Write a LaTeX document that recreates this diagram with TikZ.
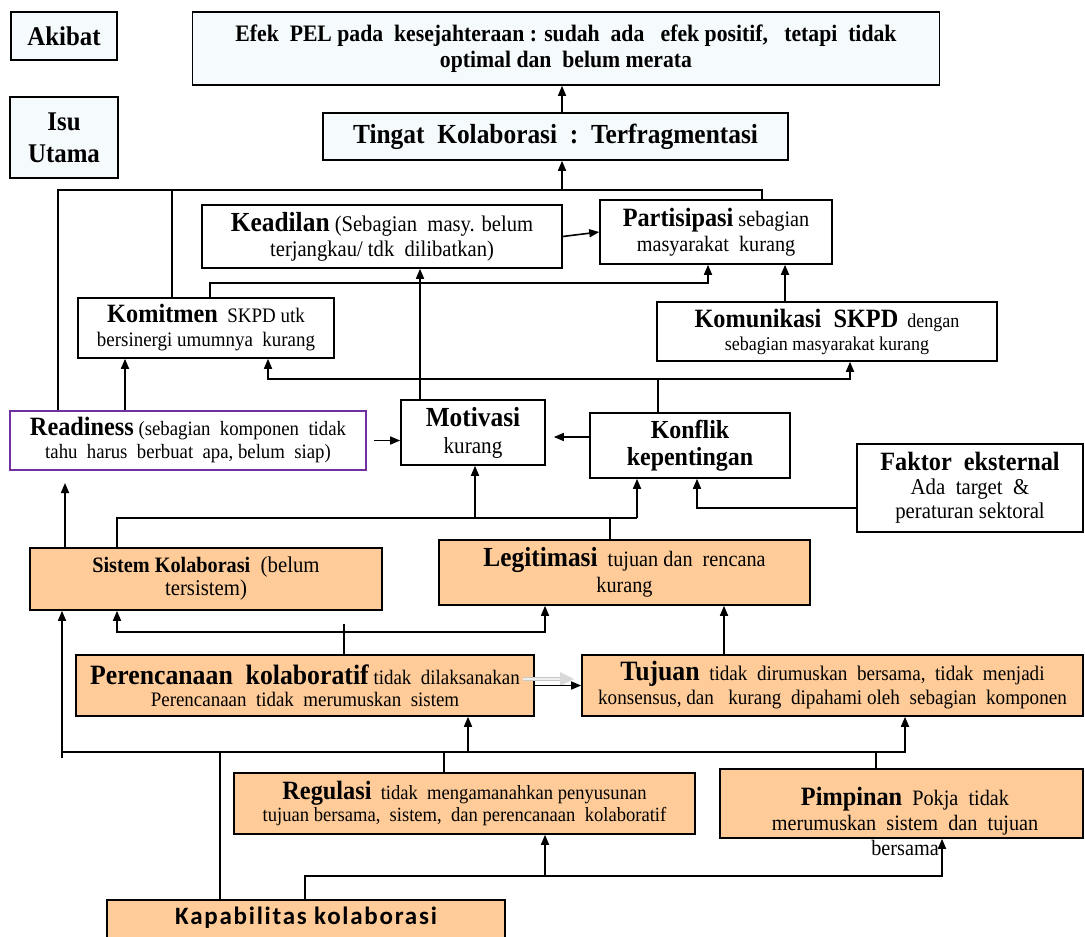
\documentclass[tikz,border=0pt]{standalone}
\usepackage{fontspec}
\setmainfont{Liberation Serif}[FakeStretch=0.92]
\newfontfamily\capfont{Carlito}[LetterSpace=7]
\usetikzlibrary{arrows.meta,calc}
\definecolor{lblue}{RGB}{245,250,253}
\definecolor{peach}{RGB}{255,204,153}
\definecolor{purp}{RGB}{112,48,160}
\newcommand\fs[2]{\fontsize{#1}{#2}\selectfont}
\newcommand\bhd[1]{{\fontsize{13.2}{13}\selectfont\bfseries #1}}
\tikzset{
  bx/.style={draw, line width=0.8pt, align=center, inner sep=1pt, font=\fs{10}{12}},
  bb/.style={bx, fill=lblue},
  ob/.style={bx, fill=peach},
  sz/.style 2 args={minimum width=#1*0.5pt, minimum height=#2*0.5pt},
  arr/.style={-{Triangle[length=5pt,width=4pt]}},
  darr/.style={{Triangle[length=5pt,width=4pt]}-{Triangle[length=5pt,width=4pt]}},
  ln/.style={line width=0.8pt}
}
\begin{document}
\begin{tikzpicture}[x={(0.5pt,0)}, y={(0,-0.5pt)}]
\useasboundingbox (0,0) rectangle (1085,936);
\fill[white] (0,0) rectangle (1085,936);

% top
\node[bb, sz={106}{48}, font=\fs{13.5}{15}\bfseries] (akibat) at (64,36) {Akibat};
\node[bb, sz={108}{81}, font=\fs{13.5}{16}\bfseries] (isu) at (64,137.5) {Isu\\Utama};
\node[bb, sz={747}{73}, font=\fs{11.8}{13}\bfseries] (efek) at (566,48.5) {Efek\ \ PEL pada\ \ kesejahteraan : sudah\ \ ada\ \ \ efek positif,\ \ \ tetapi\ \ tidak\\optimal dan\ \ belum merata};
\node[bb, sz={465}{47}, font=\fs{13.8}{16}\bfseries] (tingat) at (555.5,136.5) {Tingat\ \ Kolaborasi\ \ :\ \ Terfragmentasi};

% middle
\node[bx, sz={360}{63}, font=\fs{11.2}{12.5}] (keadilan) at (382,236.5) {{\fs{13.8}{13}\bfseries Keadilan} (Sebagian\ \ masy. belum\\terjangkau/ tdk\ \ dilibatkan)};
\node[bx, sz={232}{64}, font=\fs{11}{12.5}] (partisipasi) at (716,232) {\bhd{Partisipasi} sebagian\\masyarakat\ \ kurang};
\node[bx, sz={256}{60}, font=\fs{10.3}{12}] (komitmen) at (206,328) {\bhd{Komitmen}\ \ SKPD utk\\bersinergi umumnya\ \ kurang};
\node[bx, sz={340}{59}, font=\fs{9.8}{11.5}] (komunikasi) at (827,331.5) {\bhd{Komunikasi\ \ SKPD}\ \ dengan\\sebagian masyarakat kurang};
\node[bx, draw=purp, line width=0.6pt, sz={356}{59}, font=\fs{10.2}{11.5}] (readiness) at (188,440.5) {\bhd{Readiness} (sebagian\ \ komponen\ \ tidak\\tahu\ \ harus\ \ berbuat\ \ apa, belum\ \ siap)};
\node[bx, sz={144}{65}, font=\fs{11.5}{13.5}] (motivasi) at (473,432.5) {{\fs{13.8}{13}\bfseries Motivasi}\\kurang};
\node[bx, sz={200}{65}, font=\fs{13}{13.5}\bfseries] (konflik) at (690,445.5) {Konflik\\kepentingan};
\node[bx, sz={226}{88}, font=\fs{11.3}{12}] (faktor) at (970,488) {\bhd{Faktor\ \ eksternal}\\Ada\ \ target\ \ \&\\peraturan sektoral};

% lower
\node[ob, sz={352}{62}, font=\fs{11.3}{11.5}] (sistem) at (206,579) {{\bfseries\fs{11}{11.5}Sistem Kolaborasi}\ \ (belum\\tersistem)};
\node[ob, sz={371}{65}, font=\fs{11}{13}] (legitimasi) at (624.5,572.5) {{\fs{13.8}{13}\bfseries Legitimasi}\ \ tujuan dan\ \ rencana\\kurang};
\node[ob, sz={458}{61}, font=\fs{10.3}{11}] (perencanaan) at (305,685.5) {{\fs{14}{13}\bfseries Perencanaan\ \ kolaboratif} tidak\ \ dilaksanakan\\Perencanaan\ \ tidak\ \ merumuskan\ \ sistem};
\node[ob, sz={501}{61}, font=\fs{10.4}{12}] (tujuan) at (832.5,685.5) {{\fs{14}{12}\bfseries Tujuan}\ \ tidak\ \ dirumuskan\ \ bersama,\ \ tidak\ \ menjadi\\konsensus, dan\ \ \ kurang\ \ dipahami oleh\ \ sebagian\ \ komponen};
\node[ob, sz={461}{61}, font=\fs{10.1}{11}] (regulasi) at (464.5,803.5) {\bhd{Regulasi}\ \ tidak\ \ mengamanahkan penyusunan\\tujuan bersama,\ \ sistem,\ \ dan perencanaan\ \ kolaboratif};
\node[ob, sz={363}{69}] (pimpinan) at (901.5,803.5) {};
\node[align=center, font=\fs{11}{12.5}, inner sep=0pt] (pimtxt) at (905,821) {\bhd{Pimpinan}\ \ Pokja\ \ tidak\\merumuskan\ \ sistem\ \ dan\ \ tujuan\\bersama};
\node[ob, sz={398}{60}] (kapabilitas) at (306,930) {};
\node[font=\capfont\bfseries\fs{12.5}{14}, inner sep=0pt] (kaptxt) at (306,918) {Kapabilitas kolaborasi};

% junction coordinates
\coordinate (j1) at (562,190);
\coordinate (bL) at (58,190);
\coordinate (bR) at (762,190);
\coordinate (bK) at (172,190);
\coordinate (c2) at (210,283);
\coordinate (c3) at (708,283);
\coordinate (xm) at (420,330);
\coordinate (xk) at (785,280);
\coordinate (kb) at (658,379);
\coordinate (kl) at (268,379);
\coordinate (kr) at (850,379);
\coordinate (xr) at (125,380);
\coordinate (ky) at (570,437);
\coordinate (fk) at (697,508);
\coordinate (lg) at (610,518);
\coordinate (ls) at (117,518);
\coordinate (lk) at (637,518);
\coordinate (lm) at (475,518);
\coordinate (sr) at (65,483);
\coordinate (pp) at (344,632);
\coordinate (pl) at (117,632);
\coordinate (pr) at (545,632);
\coordinate (tl) at (724,630);
\coordinate (bl) at (62,752);
\coordinate (br) at (905,752);
\coordinate (bk) at (220,752);
\coordinate (bg) at (444,752);
\coordinate (bp) at (876,752);
\coordinate (bm) at (468,752);
\coordinate (kk) at (305,876);
\coordinate (kr1) at (545,876);
\coordinate (kr2) at (942,876);
\coordinate (g1) at (523,679);
\coordinate (g2) at (562,679);

\begin{scope}[ln]
% top
\draw[arr] (j1 |- tingat.north) -- (j1 |- efek.south);
\draw[arr] (j1) -- (j1 |- tingat.south);
\draw (bL |- readiness.north) -- (bL) -- (bR) -- (bR |- partisipasi.north);
\draw (bK) -- (bK |- komitmen.north);
% middle
\draw[arr] (keadilan.east) -- (partisipasi.west);
\draw[arr] (c2 |- komitmen.north) -- (c2) -- (c3) -- (c3 |- partisipasi.south);
\draw[arr] (xm |- motivasi.north) -- (xm |- keadilan.south);
\draw[arr] (xk |- komunikasi.north) -- (xk |- partisipasi.south);
\draw (kb |- konflik.north) -- (kb);
\draw[arr] (kb) -- (kl) -- (kl |- komitmen.south);
\draw[arr] (kb) -- (kr) -- (kr |- komunikasi.south);
\draw[arr] (xr |- readiness.north) -- (xr |- komitmen.south);
\draw[arr] ([xshift=3.5pt]readiness.east) -- (motivasi.west |- readiness.east);
\draw[arr] (konflik.west |- ky) -- ([xshift=4pt]motivasi.east |- ky);
\draw[arr] (faktor.west |- fk) -- (fk) -- (fk |- konflik.south);
% lower
\draw (lg |- legitimasi.north) -- (lg);
\draw (ls |- sistem.north) -- (ls) -- (lk);
\draw[arr] (lk) -- (lk |- konflik.south);
\draw[arr] (lm) -- (lm |- motivasi.south);
\draw[arr] (sr |- sistem.north) -- (sr);
\draw (pp |- perencanaan.north) -- ($(pp)+(0,-8)$);
\draw[darr] (pl |- sistem.south) -- (pl) -- (pr) -- (pr |- legitimasi.south);
\draw[black!22, line width=0.5pt, double=black!6, double distance=1.4pt] (g1) -- (g2);
\fill[black!15] ($(g2)+(-2,-7)$) -- ($(g2)+(12,0)$) -- ($(g2)+(-2,7)$) -- cycle;
\draw[arr] (perencanaan.east) -- (tujuan.west);
\draw[arr] (tl |- tujuan.north) -- (tl |- legitimasi.south);
\draw[darr] (bl |- sistem.south) -- (bl) -- (br) -- (br |- tujuan.south);
\draw (bl) -- ++(0,6);
\draw (bk |- kapabilitas.north) -- (bk);
\draw (bg |- regulasi.north) -- (bg);
\draw (bp |- pimpinan.north) -- (bp);
\draw[arr] (bm) -- (bm |- perencanaan.south);
\draw[arr] (kk |- kapabilitas.north) -- (kk) -- (kr2) -- (kr2 |- pimpinan.south);
\draw[arr] (kr1) -- (kr1 |- regulasi.south);
\end{scope}
\end{tikzpicture}
\end{document}
